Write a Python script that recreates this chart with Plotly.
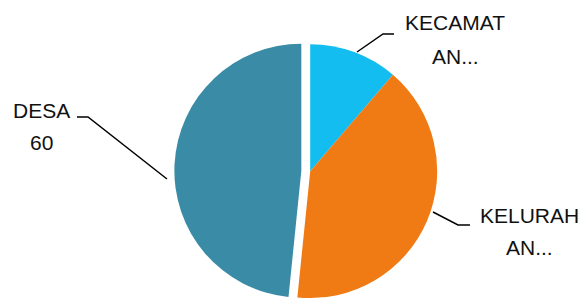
import plotly.graph_objects as go

categories = ["KECAMATAN", "KELURAHAN", "DESA"]
values = [14, 50, 60]
label_lines = [["KECAMAT", "AN..."], ["KELURAH", "AN..."], ["DESA", "60"]]
colors = ["#13BDF0", "#F07B14", "#3A8BA5"]

W, H = 582, 307

fig = go.Figure(go.Pie(
    labels=categories,
    values=values,
    sort=False,
    direction="clockwise",
    rotation=0,
    pull=[0, 0, 0.07],
    marker=dict(colors=colors, line=dict(width=0)),
    textinfo="none",
    hoverinfo="label+value",
    domain=dict(x=[0.290, 0.776], y=[0.0, 0.885]),
))

def px(x, y):
    return x / W, 1 - y / H

# label positions (pixel centres of each text line)
label_pos = [[(455, 22), (455, 57)], [(529, 215), (529, 247)], [(41, 111), (41, 142)]]
leaders = [
    [(357, 52), (383, 34), (394, 34)],
    [(433, 212), (458, 225), (470, 225)],
    [(167, 179), (88, 117), (77, 117)],
]

annotations = []
for lines, poss in zip(label_lines, label_pos):
    for t, (x, y) in zip(lines, poss):
        ax, ay = px(x, y)
        annotations.append(dict(x=ax, y=ay, xref="paper", yref="paper", text=t,
                                showarrow=False, xanchor="center", yanchor="middle",
                                font=dict(family="Liberation Sans, Arial", size=21, color="#111")))

shapes = []
for pts in leaders:
    path = "M " + " L ".join(f"{x/W:.5f},{1 - y/H:.5f}" for x, y in pts)
    shapes.append(dict(type="path", path=path, xref="paper", yref="paper",
                       line=dict(color="#000", width=1.5)))

fig.update_layout(
    width=W, height=H,
    margin=dict(l=0, r=0, t=0, b=0),
    paper_bgcolor="white", plot_bgcolor="white",
    showlegend=False,
    annotations=annotations,
    shapes=shapes,
)

fig.write_html("out.html", config={"displayModeBar": False},
               post_script="document.body.style.margin='0';document.body.style.overflow='hidden';")
